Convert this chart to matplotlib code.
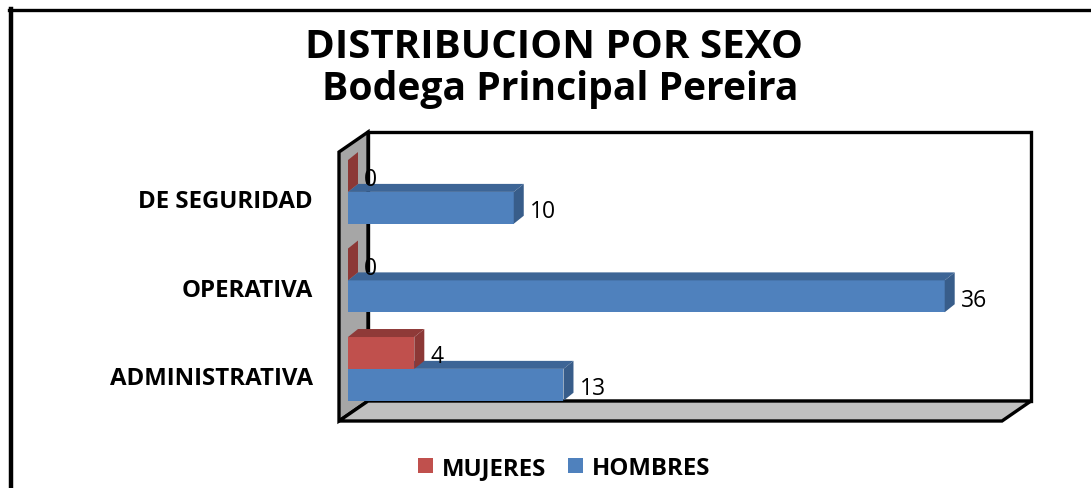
"""Distribucion por sexo - Bodega Principal Pereira (3D-style horizontal bars)."""
import matplotlib
matplotlib.use("Agg")
import matplotlib.pyplot as plt
from matplotlib.patches import Polygon, Patch
from matplotlib.lines import Line2D
from matplotlib.transforms import offset_copy, Affine2D, blended_transform_factory

# data
categorias = ["ADMINISTRATIVA", "OPERATIVA", "DE SEGURIDAD"]
mujeres = [4, 0, 0]
hombres = [13, 36, 10]
series = ["MUJERES", "HOMBRES"]

titulo_1 = "DISTRIBUCION POR SEXO"
titulo_2 = "Bodega Principal Pereira"

# colours (front, top, side)
COL_M = ("#c0504d", "#8f3a38", "#8c3836")
COL_H = ("#4f81bd", "#3d6596", "#385d8a")

W, H = 1091, 489
FONT = "Open Sans"

fig = plt.figure(figsize=(W / 100, H / 100), dpi=100)
fig.patch.set_facecolor("white")

# pixel coords of the front plane of the 3D box + depth of the box
FL, FT, FR, FB = 339, 153, 1002, 422
DX, DY = 29, -20
XMAX = 40
YLO, YHI = -0.51, 2.53

ax = fig.add_axes([FL / W, 1 - FB / H, (FR - FL) / W, (FB - FT) / H])
ax.set_xlim(0, XMAX)
ax.set_ylim(YLO, YHI)
ax.axis("off")
ax.set_zorder(1)

# pixel transform (image coords, y down)
pix = Affine2D().scale(1 / W, -1 / H).translate(0, 1) + fig.transFigure

def wall(pts, color, z=0):
    fig.add_artist(Polygon(pts, closed=True, facecolor=color, edgecolor="black",
                           linewidth=2.4, joinstyle="miter", transform=pix, zorder=z))

# back wall, left wall, floor
wall([(FL + DX, FT + DY), (FR + DX, FT + DY), (FR + DX, FB + DY), (FL + DX, FB + DY)], "white", 0.1)
wall([(FL, FT), (FL + DX, FT + DY), (FL + DX, FB + DY), (FL, FB)], "#a6a6a6", 0.2)
wall([(FL, FB), (FR, FB), (FR + DX, FB + DY), (FL + DX, FB + DY)], "#c0c0c0", 0.2)

# bars live a bit behind the front plane
bar_tr = offset_copy(ax.transData, fig=fig, x=9, y=7, units="dots")
px_x = (FR - FL) / XMAX
px_y = (FB - FT) / (YHI - YLO)
bdx, bdy = 10 / px_x, 8 / px_y
BH = 0.36

def bar3d(y0, val, cols):
    front, top, side = cols
    ax.add_patch(Polygon([(0, y0), (val, y0), (val, y0 + BH), (0, y0 + BH)],
                         facecolor=front, edgecolor="none", transform=bar_tr, clip_on=False, zorder=3))
    ax.add_patch(Polygon([(0, y0 + BH), (val, y0 + BH), (val + bdx, y0 + BH + bdy), (bdx, y0 + BH + bdy)],
                         facecolor=top, edgecolor="none", transform=bar_tr, clip_on=False, zorder=3))
    ax.add_patch(Polygon([(val, y0), (val + bdx, y0 + bdy), (val + bdx, y0 + BH + bdy), (val, y0 + BH)],
                         facecolor=side, edgecolor="none", transform=bar_tr, clip_on=False, zorder=3))
    ax.text(val, y0 + BH / 2, str(val), transform=offset_copy(bar_tr, fig=fig, x=16, y=-9.5, units="dots"),
            ha="left", va="baseline", fontsize=16.5, family=FONT, color="black", zorder=4)

for i in range(len(categorias)):
    bar3d(i - BH, hombres[i], COL_H)
for i in range(len(categorias)):
    bar3d(i, mujeres[i], COL_M)

# category labels
lab_tr = offset_copy(blended_transform_factory(ax.transAxes, ax.transData), fig=fig,
                     x=-26, y=-8.5, units="dots")
for i, c in enumerate(categorias):
    ax.text(0, i, c, transform=lab_tr, ha="right", va="baseline",
            fontsize=17.3, fontweight="bold", family=FONT)

# title
fig.text(554 / W, 1 - 58 / H, titulo_1, ha="center", va="baseline",
         fontsize=29, fontweight="bold", family=FONT)
fig.text(560 / W, 1 - 100 / H, titulo_2, ha="center", va="baseline",
         fontsize=28.2, fontweight="bold", family=FONT)

# legend
handles = [Patch(facecolor=COL_M[0]), Patch(facecolor=COL_H[0])]
leg = fig.legend(handles, series, loc="center", bbox_to_anchor=(564 / W, 1 - 469 / H),
                 ncol=2, frameon=False, handlelength=0.62, handleheight=0.62,
                 handletextpad=0.38, columnspacing=0.9,
                 prop={"family": FONT, "weight": "bold", "size": 17.3})

# outer chart border (top + left visible)
fig.add_artist(Line2D([9 / W, 1], [1 - 11 / H, 1 - 11 / H], color="black", linewidth=2.4, transform=fig.transFigure))
fig.add_artist(Line2D([11.5 / W, 11.5 / W], [1 - 10 / H, 0], color="black", linewidth=3.2, transform=fig.transFigure))

fig.savefig("out.png", dpi=100)
